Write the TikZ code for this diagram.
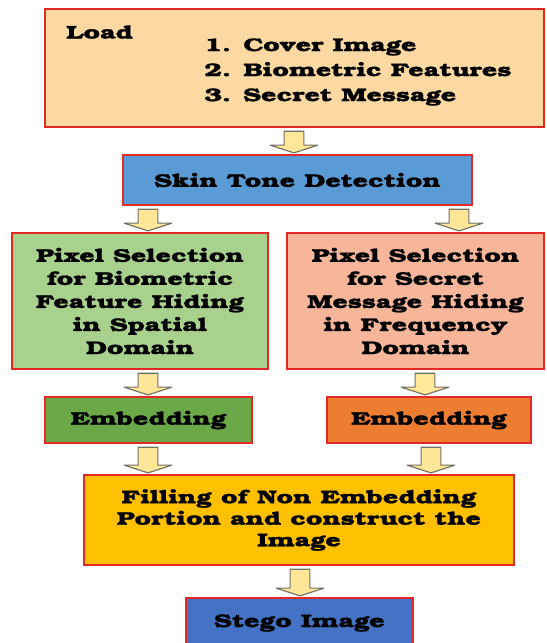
\documentclass[tikz,border=0pt]{standalone}
\usepackage{fontspec}
\setmainfont{TeX Gyre Bonum}[FakeStretch=1.47, FakeBold=1.2]
\usetikzlibrary{calc}
\definecolor{boxred}{RGB}{228,40,38}
\definecolor{loadfill}{RGB}{252,217,162}
\definecolor{skinblue}{RGB}{91,155,213}
\definecolor{selgreen}{RGB}{169,209,142}
\definecolor{selpink}{RGB}{247,182,154}
\definecolor{embgreen}{RGB}{106,168,72}
\definecolor{emborange}{RGB}{237,125,49}
\definecolor{fillgold}{RGB}{255,192,0}
\definecolor{stegoblue}{RGB}{68,114,196}
\definecolor{arrowfill}{RGB}{255,230,153}
\definecolor{arrowedge}{RGB}{112,112,100}
\newcommand\pxu{0.7113pt}
\tikzset{
  box/.style={draw=boxred, line width=2pt, inner sep=0pt, align=center,
    font=\fontsize{13pt}{16.4pt}\selectfont\bfseries},
  txt/.style={inner sep=0pt, font=\fontsize{13pt}{17.8pt}\selectfont\bfseries},
  barrow/.style={fill=arrowfill, draw=arrowedge, line width=0.8pt, line join=round}
}
\newcommand\blockarrow[3]{%
  \draw[barrow] let \p1=(#1,0 |- #2.south), \p2=(#1,0 |- #3.north) in
    (\x1-7pt,\y1-2pt) -- (\x1+7pt,\y1-2pt) -- (\x1+7pt,\y2+6pt) -- (\x1+17pt,\y2+6pt)
    -- (\x1,\y2+0.5pt) -- (\x1-17pt,\y2+6pt) -- (\x1-7pt,\y2+6pt) -- cycle;}
\begin{document}
\begin{tikzpicture}[x=0.025cm, y=-0.025cm]
\useasboundingbox (0,0) rectangle (546,643);
\node[box, fill=loadfill, minimum width=499*\pxu, minimum height=118*\pxu] (load) at (294.5,68) {};
\node[txt, anchor=west] (loadlbl) at (66,32) {Load};
\node[txt, anchor=west, align=left] (loadlist) at (204,72) {1. Cover Image\\2. Biometric Features\\3. Secret Message};
\node[box, fill=skinblue, minimum width=349*\pxu, minimum height=50*\pxu] (skin) at (297.5,180) {Skin Tone Detection};
\node[box, fill=selgreen, minimum width=256*\pxu, minimum height=136*\pxu] (gsel) at (140,301)
  {Pixel Selection\\for Biometric\\Feature Hiding\\in Spatial\\Domain};
\node[box, fill=selpink, minimum width=257*\pxu, minimum height=136*\pxu] (psel) at (415.5,301)
  {Pixel Selection\\for Secret\\Message Hiding\\in Frequency\\Domain};
\node[box, fill=embgreen, minimum width=207*\pxu, minimum height=46*\pxu] (embg) at (148.5,420) {Embedding};
\node[box, fill=emborange, minimum width=204*\pxu, minimum height=46*\pxu] (embo) at (429,420) {Embedding};
\node[box, fill=fillgold, minimum width=430*\pxu, minimum height=90*\pxu,
  font=\fontsize{13pt}{15.3pt}\selectfont\bfseries] (fill) at (299,520)
  {Filling of Non Embedding\\Portion and construct the\\Image};
\node[box, fill=stegoblue, minimum width=227*\pxu, minimum height=50*\pxu] (stego) at (299.5,623) {Stego Image};
\foreach \ax/\a/\b in {294/load/skin, 148/skin/gsel, 459/skin/psel, 148/gsel/embg,
  425/psel/embo, 148/embg/fill, 431/embo/fill, 300/fill/stego}
  \blockarrow{\ax}{\a}{\b};
\end{tikzpicture}
\end{document}
